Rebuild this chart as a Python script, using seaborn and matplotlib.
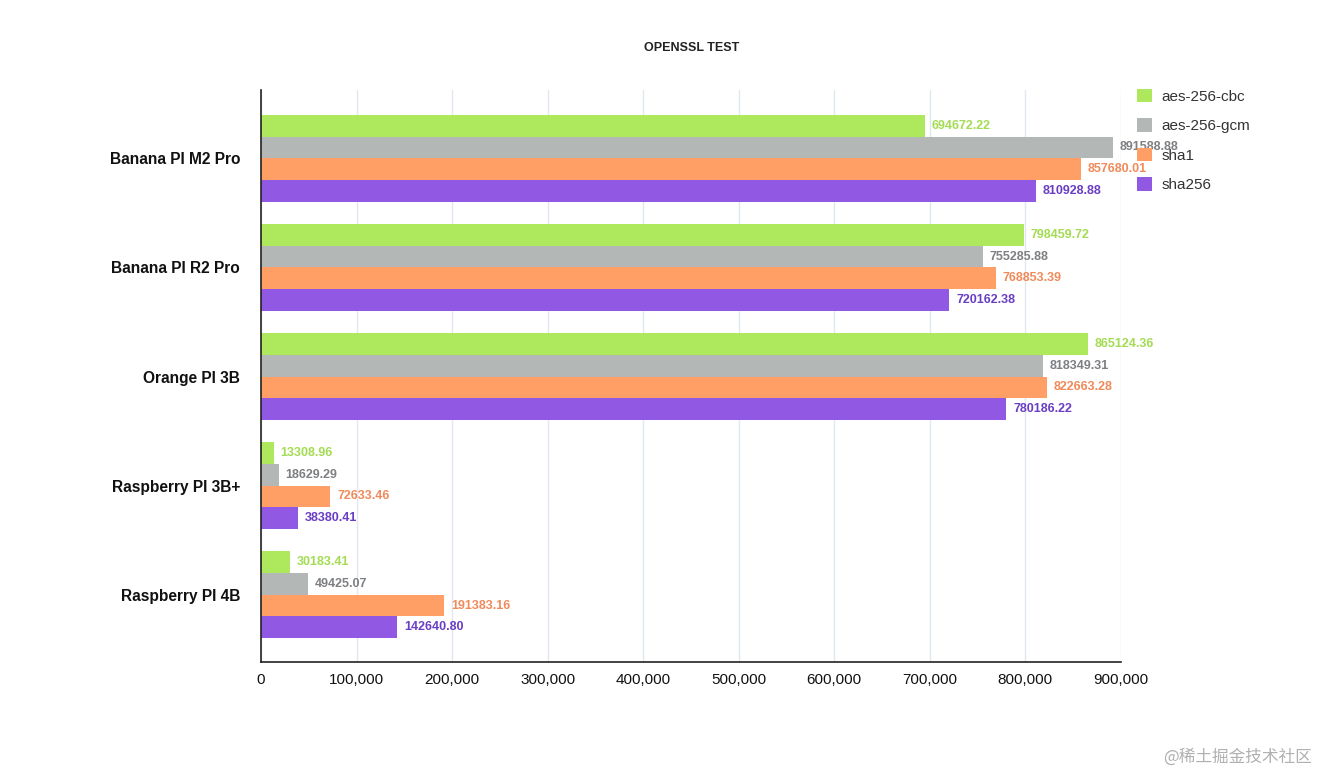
import matplotlib
matplotlib.use("Agg")
import matplotlib.pyplot as plt
import seaborn as sns
import pandas as pd
from matplotlib.patches import Patch
from matplotlib.ticker import FuncFormatter

categories = ["Banana PI M2 Pro", "Banana PI R2 Pro", "Orange PI 3B", "Raspberry PI 3B+", "Raspberry PI 4B"]
series = ["aes-256-cbc", "aes-256-gcm", "sha1", "sha256"]
aes_cbc = [694672.22, 798459.72, 865124.36, 13308.96, 30183.41]
aes_gcm = [891588.88, 755285.88, 818349.31, 18629.29, 49425.07]
sha1 = [857680.01, 768853.39, 822663.28, 72633.46, 191383.16]
sha256 = [810928.88, 720162.38, 780186.22, 38380.41, 142640.80]

bar_colors = ["#aee85c", "#b3b8b7", "#ff9f66", "#9159e3"]
label_colors = ["#a3dc52", "#7d7f82", "#f08a5a", "#6a3ec4"]

rows = []
for s, vals in zip(series, [aes_cbc, aes_gcm, sha1, sha256]):
    for c, v in zip(categories, vals):
        rows.append({"device": c, "test": s, "value": v})
df = pd.DataFrame(rows)

sns.set_theme(style="white")
plt.rcParams["font.family"] = ["Liberation Sans", "DejaVu Sans"]

fig = plt.figure(figsize=(13.18, 7.80), dpi=100)
ax = fig.add_axes([0.198, 0.151, 0.6525, 0.734])

sns.barplot(data=df, y="device", x="value", hue="test", order=categories,
            hue_order=series, palette=bar_colors, orient="h", width=0.8,
            saturation=1, ax=ax, legend=False, errorbar=None, linewidth=0)

for cont, lc in zip(ax.containers, label_colors):
    ax.bar_label(cont, labels=[f"{v:.2f}" for v in cont.datavalues],
                 padding=5, fontsize=9, color=lc, fontweight="bold")

ax.set_xlim(0, 900000)
ax.set_ylim(4.62, -0.63)
ax.set_xticks(range(0, 900001, 100000))
ax.xaxis.set_major_formatter(FuncFormatter(lambda v, p: f"{int(v):,}"))
ax.grid(axis="x", color="#dfe8ee", linewidth=1)
ax.set_axisbelow(True)
for side in ["top", "right"]:
    ax.spines[side].set_visible(False)
for side in ["left", "bottom"]:
    ax.spines[side].set_color("#222222")
    ax.spines[side].set_linewidth(1.2)
ax.set_xlabel("")
ax.set_ylabel("")
ax.tick_params(axis="x", labelsize=11, colors="#111111", length=0, pad=8)
ax.tick_params(axis="y", labelsize=11.2, colors="#111111", length=0, pad=15)
for t in ax.get_yticklabels():
    t.set_fontweight("bold")

fig.text(0.525, 0.938, "OPENSSL TEST", ha="center", va="center",
         fontsize=9, fontweight="bold", color="#222222")

handles = [Patch(facecolor=c, edgecolor="none") for c in bar_colors]
leg = fig.legend(handles, series, loc="upper left", bbox_to_anchor=(0.852, 0.904),
                 frameon=False, fontsize=11, handlelength=1.0, handleheight=1.0,
                 labelspacing=0.95, handletextpad=0.6)
for t in leg.get_texts():
    t.set_color("#333333")

fig.text(0.995, 0.018, "@稀土掘金技术社区", ha="right", va="bottom", fontsize=12,
         color="#b0b0b0", family=["Noto Sans CJK SC", "DejaVu Sans"])

fig.savefig("out.png", dpi=100, facecolor="white")
